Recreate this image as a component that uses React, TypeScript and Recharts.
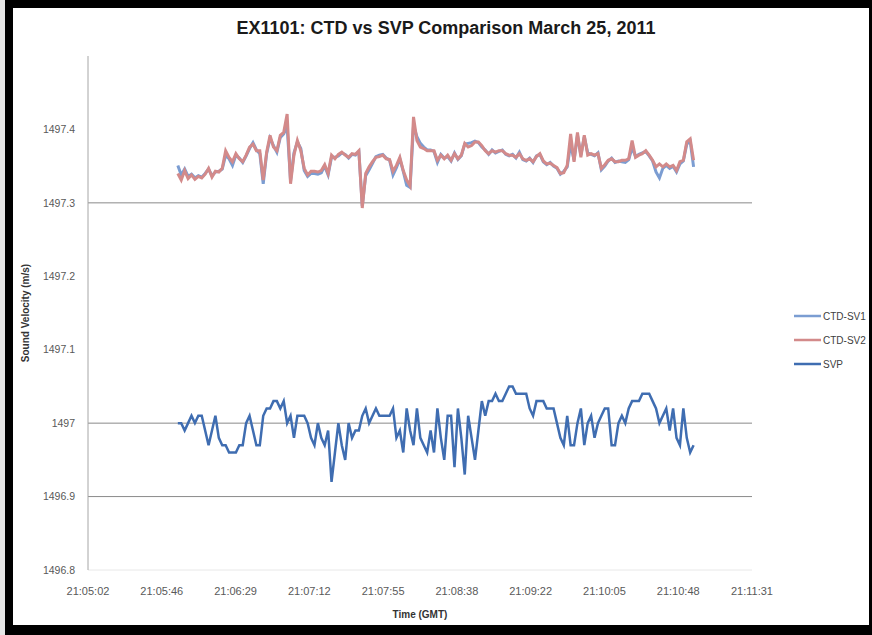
import {
  LineChart,
  Line,
  XAxis,
  YAxis,
  ReferenceLine,
  Legend,
} from "recharts";

// sample times: 21:05:55 GMT onward, every 2 s (seconds since midnight)
const START_SEC = 75955;
const STEP_SEC = 2;

const CTD_SV1 = [
  1497.351, 1497.338, 1497.346, 1497.336, 1497.339, 1497.334, 1497.337, 1497.335, 1497.340, 1497.346,
  1497.337, 1497.342, 1497.343, 1497.346, 1497.365, 1497.360, 1497.351, 1497.365, 1497.361, 1497.355,
  1497.364, 1497.374, 1497.382, 1497.372, 1497.367, 1497.326, 1497.367, 1497.388, 1497.378, 1497.369,
  1497.389, 1497.394, 1497.404, 1497.330, 1497.368, 1497.383, 1497.374, 1497.344, 1497.336, 1497.340,
  1497.340, 1497.339, 1497.341, 1497.350, 1497.338, 1497.362, 1497.362, 1497.364, 1497.368, 1497.366,
  1497.361, 1497.366, 1497.365, 1497.370, 1497.296, 1497.337, 1497.345, 1497.354, 1497.363, 1497.365,
  1497.366, 1497.361, 1497.358, 1497.338, 1497.348, 1497.360, 1497.343, 1497.324, 1497.321, 1497.405,
  1497.390, 1497.381, 1497.376, 1497.372, 1497.372, 1497.370, 1497.355, 1497.366, 1497.361, 1497.363,
  1497.357, 1497.368, 1497.359, 1497.364, 1497.380, 1497.381, 1497.382, 1497.384, 1497.382, 1497.376,
  1497.372, 1497.366, 1497.372, 1497.368, 1497.370, 1497.372, 1497.366, 1497.364, 1497.366, 1497.361,
  1497.369, 1497.359, 1497.357, 1497.361, 1497.355, 1497.364, 1497.366, 1497.356, 1497.352, 1497.355,
  1497.350, 1497.347, 1497.339, 1497.343, 1497.349, 1497.380, 1497.358, 1497.392, 1497.365, 1497.390,
  1497.368, 1497.366, 1497.364, 1497.368, 1497.345, 1497.350, 1497.357, 1497.361, 1497.355, 1497.357,
  1497.356, 1497.355, 1497.359, 1497.375, 1497.363, 1497.366, 1497.368, 1497.370, 1497.364, 1497.357,
  1497.342, 1497.334, 1497.347, 1497.351, 1497.347, 1497.350, 1497.342, 1497.353, 1497.357, 1497.380,
  1497.384, 1497.349,
];

const CTD_SV2 = [
  1497.340, 1497.331, 1497.344, 1497.333, 1497.338, 1497.332, 1497.336, 1497.334, 1497.339, 1497.347,
  1497.335, 1497.343, 1497.342, 1497.347, 1497.371, 1497.362, 1497.356, 1497.367, 1497.360, 1497.356,
  1497.365, 1497.376, 1497.380, 1497.371, 1497.371, 1497.331, 1497.369, 1497.392, 1497.376, 1497.371,
  1497.392, 1497.396, 1497.421, 1497.326, 1497.365, 1497.385, 1497.371, 1497.347, 1497.338, 1497.343,
  1497.343, 1497.342, 1497.344, 1497.352, 1497.340, 1497.365, 1497.360, 1497.366, 1497.369, 1497.365,
  1497.362, 1497.367, 1497.366, 1497.371, 1497.293, 1497.340, 1497.349, 1497.356, 1497.362, 1497.363,
  1497.365, 1497.360, 1497.359, 1497.343, 1497.351, 1497.362, 1497.344, 1497.331, 1497.323, 1497.417,
  1497.385, 1497.376, 1497.374, 1497.371, 1497.371, 1497.371, 1497.358, 1497.365, 1497.360, 1497.365,
  1497.358, 1497.367, 1497.360, 1497.365, 1497.381, 1497.376, 1497.378, 1497.383, 1497.383, 1497.378,
  1497.371, 1497.367, 1497.371, 1497.369, 1497.371, 1497.371, 1497.367, 1497.365, 1497.365, 1497.362,
  1497.367, 1497.360, 1497.358, 1497.360, 1497.356, 1497.363, 1497.367, 1497.357, 1497.353, 1497.354,
  1497.351, 1497.348, 1497.340, 1497.341, 1497.351, 1497.394, 1497.356, 1497.396, 1497.362, 1497.392,
  1497.365, 1497.367, 1497.365, 1497.367, 1497.347, 1497.352, 1497.358, 1497.360, 1497.356, 1497.356,
  1497.358, 1497.358, 1497.360, 1497.385, 1497.362, 1497.365, 1497.367, 1497.371, 1497.365, 1497.358,
  1497.349, 1497.353, 1497.349, 1497.353, 1497.349, 1497.351, 1497.344, 1497.356, 1497.358, 1497.383,
  1497.387, 1497.358,
];

const SVP = [
  1497.0, 1497.0, 1496.99, 1497.0, 1497.01, 1497.0, 1497.01, 1497.01, 1496.99, 1496.97,
  1496.99, 1497.01, 1496.98, 1496.97, 1496.97, 1496.96, 1496.96, 1496.96, 1496.97, 1496.97,
  1497.0, 1497.01, 1496.99, 1496.97, 1496.97, 1497.01, 1497.02, 1497.02, 1497.03, 1497.03,
  1497.02, 1497.03, 1497.0, 1497.01, 1496.98, 1497.01, 1497.01, 1497.01, 1497.0, 1496.98,
  1496.97, 1497.0, 1496.98, 1496.97, 1496.99, 1496.92, 1496.96, 1497.0, 1496.97, 1496.95,
  1497.0, 1496.98, 1496.99, 1496.99, 1497.01, 1497.02, 1497.0, 1497.01, 1497.02, 1497.01,
  1497.01, 1497.01, 1497.01, 1497.02, 1496.98, 1496.99, 1496.96, 1497.02, 1496.99, 1496.97,
  1497.02, 1496.98, 1496.97, 1496.96, 1496.99, 1496.96, 1497.02, 1496.98, 1496.95, 1497.01,
  1497.01, 1496.94, 1497.02, 1496.98, 1496.93, 1497.01, 1496.98, 1496.95, 1496.99, 1497.03,
  1497.01, 1497.03, 1497.03, 1497.04, 1497.03, 1497.03, 1497.04, 1497.05, 1497.05, 1497.04,
  1497.04, 1497.04, 1497.04, 1497.02, 1497.01, 1497.03, 1497.03, 1497.03, 1497.02, 1497.02,
  1497.02, 1497.0, 1496.98, 1496.97, 1497.01, 1496.97, 1496.97, 1497.0, 1497.02, 1496.97,
  1497.0, 1497.01, 1496.98, 1497.0, 1497.01, 1497.02, 1497.02, 1496.97, 1496.97, 1497.0,
  1497.01, 1497.0, 1497.02, 1497.03, 1497.03, 1497.03, 1497.04, 1497.04, 1497.04, 1497.03,
  1497.02, 1497.0, 1497.01, 1497.02, 1496.99, 1497.02, 1496.98, 1496.97, 1497.02, 1496.98,
  1496.96, 1496.97,
];

const X_TICKS = [75902.4, 75945.6, 75988.8, 76032, 76075.2, 76118.4, 76161.6, 76204.8, 76248, 76291.2];
const X_TICK_LABELS = [
  "21:05:02", "21:05:46", "21:06:29", "21:07:12", "21:07:55",
  "21:08:38", "21:09:22", "21:10:05", "21:10:48", "21:11:31",
];
const Y_TICKS = [1496.8, 1496.9, 1497, 1497.1, 1497.2, 1497.3, 1497.4];
const Y_TICK_LABELS = ["1496.8", "1496.9", "1497", "1497.1", "1497.2", "1497.3", "1497.4"];
const GRID_VALUES = [1497.3, 1497, 1496.9];

const COLORS = {
  sv1: "#7b9dd2",
  sv2: "#d38a8a",
  svp: "#3f6db1",
};

const FONT = "'Liberation Sans', Arial, sans-serif";

const data = SVP.map((v, i) => ({
  t: START_SEC + i * STEP_SEC,
  sv1: CTD_SV1[i],
  sv2: CTD_SV2[i],
  svp: v,
}));

const xLabel = (v: number) => {
  const i = X_TICKS.findIndex((x) => Math.abs(x - v) < 0.01);
  return i >= 0 ? X_TICK_LABELS[i] : "";
};

const yLabel = (v: number) => {
  const i = Y_TICKS.findIndex((y) => Math.abs(y - v) < 0.0001);
  return i >= 0 ? Y_TICK_LABELS[i] : "";
};

const LegendBox = ({ payload }: any) => (
  <div style={{ fontFamily: FONT, fontSize: 10, color: "#404040", whiteSpace: "nowrap" }}>
    {(payload || []).map((p: any) => (
      <div key={p.value} style={{ display: "flex", alignItems: "center", height: 24 }}>
        <svg width={27} height={10}>
          <line x1={0} y1={5} x2={27} y2={5} stroke={p.color} strokeWidth={2.5} />
        </svg>
        <span style={{ marginLeft: 2 }}>{p.value}</span>
      </div>
    ))}
  </div>
);

export default function App() {
  return (
    <div style={{ position: "absolute", left: 0, top: 0, width: 872, height: 635, background: "#e6e6e6" }}>
      <div style={{ position: "absolute", left: 5, top: 0, width: 867, height: 635, background: "#000" }} />
      <div style={{ position: "absolute", left: 13, top: 8, width: 856, height: 617, background: "#fff" }} />
      <div
        style={{
          position: "absolute",
          left: 146,
          top: 18,
          width: 600,
          textAlign: "center",
          fontFamily: FONT,
          fontWeight: "bold",
          fontSize: 18,
          color: "#1a1a1a",
        }}
      >
        EX1101: CTD vs SVP Comparison March 25, 2011
      </div>
      <div style={{ position: "absolute", left: 0, top: 0 }}>
        <LineChart width={872} height={635} data={data} margin={{ top: 56, right: 120, bottom: 15, left: 28 }}>
          {GRID_VALUES.map((g) => (
            <ReferenceLine key={g} y={g} stroke="#8a8a8a" strokeWidth={1} />
          ))}
          <XAxis
            dataKey="t"
            type="number"
            domain={[X_TICKS[0], X_TICKS[X_TICKS.length - 1]]}
            ticks={X_TICKS}
            tickFormatter={xLabel}
            tickLine={false}
            tickSize={0}
            tickMargin={17}
            height={50}
            axisLine={{ stroke: "#e8e8e8" }}
            tick={{ fill: "#595959", fontSize: 11, fontFamily: FONT }}
            interval={0}
            label={{
              value: "Time (GMT)",
              position: "insideBottom",
              offset: 2,
              style: { fontFamily: FONT, fontSize: 10, fontWeight: "bold", fill: "#333" },
            }}
          />
          <YAxis
            type="number"
            domain={[1496.8, 1497.5]}
            ticks={Y_TICKS}
            tickFormatter={yLabel}
            tickLine={false}
            tickSize={0}
            tickMargin={13}
            width={60}
            interval={0}
            axisLine={{ stroke: "#a6a6a6" }}
            tick={{ fill: "#595959", fontSize: 10.5, fontFamily: FONT }}
            label={{
              value: "Sound Velocity (m/s)",
              angle: -90,
              position: "center",
              dx: -33,
              style: { fontFamily: FONT, fontSize: 10, fontWeight: "bold", fill: "#333", textAnchor: "middle" },
            }}
          />
          <Legend
            layout="vertical"
            align="center"
            verticalAlign="middle"
            content={<LegendBox />}
            wrapperStyle={{ position: "absolute", left: 794, top: 304, width: 74 }}
          />
          <Line name="CTD-SV1" dataKey="sv1" stroke={COLORS.sv1} strokeWidth={3} dot={false} type="linear" isAnimationActive={false} />
          <Line name="CTD-SV2" dataKey="sv2" stroke={COLORS.sv2} strokeWidth={3} dot={false} type="linear" isAnimationActive={false} />
          <Line name="SVP" dataKey="svp" stroke={COLORS.svp} strokeWidth={2.5} dot={false} type="linear" isAnimationActive={false} />
        </LineChart>
      </div>
    </div>
  );
}
